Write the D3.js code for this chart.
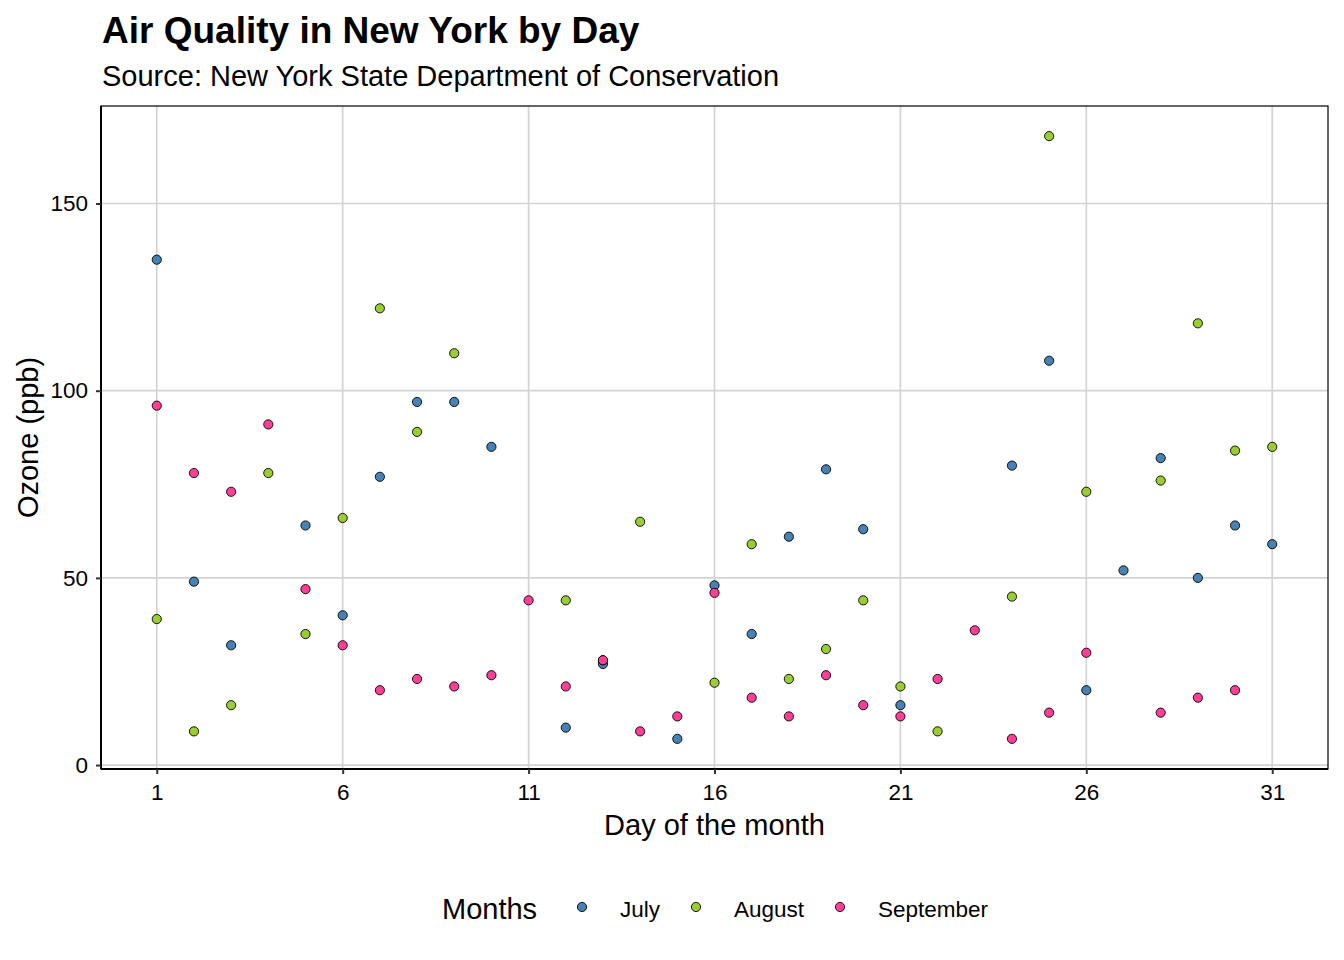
<!DOCTYPE html>
<html>
<head>
<meta charset="utf-8">
<script src="https://cdn.jsdelivr.net/npm/d3@7"></script>
<style>
html,body{margin:0;padding:0;background:#fff;}
svg text{font-family:"Liberation Sans",Arial,sans-serif;}
</style>
</head>
<body>
<svg id="chart" width="1344" height="960"></svg>
<script>
const days = d3.range(1, 32);
const months = ["July", "August", "September"];
const colors = ["#4682B4", "#9ACD32", "#FF3E96"];
const julyOzone = [135,49,32,null,64,40,77,97,97,85,null,10,27,null,7,48,35,61,79,63,16,null,null,80,108,20,52,82,50,64,59];
const augustOzone = [39,9,16,78,35,66,122,89,110,null,null,44,28,65,null,22,59,23,31,44,21,9,null,45,168,73,null,76,118,84,85];
const septemberOzone = [96,78,73,91,47,32,20,23,21,24,44,21,28,9,13,46,18,13,24,16,13,23,36,7,14,30,null,14,18,20];
const xTicks = [1,6,11,16,21,26,31];
const yTicks = [0,50,100,150];

const series = [julyOzone, augustOzone, septemberOzone];
const points = [];
series.forEach((vals, mi) => vals.forEach((v, i) => {
  if (v != null) points.push({day: days[i], ozone: v, month: months[mi]});
}));

const svg = d3.select("#chart");
const L = 101, R = 1328, T = 106, B = 769;
const allVals = points.map(p => p.ozone);
const ymin = d3.min(allVals), ymax = d3.max(allVals);
const yr = ymax - ymin;
const x = d3.scaleLinear().domain([1 - 1.5, 31 + 1.5]).range([L, R]);
const y = d3.scaleLinear().domain([ymin - 0.05*yr, ymax + 0.05*yr]).range([B, T]);
const color = d3.scaleOrdinal().domain(months).range(colors);

// grid
svg.append("g").selectAll("line").data(yTicks).join("line")
  .attr("x1", L).attr("x2", R).attr("y1", d => y(d)).attr("y2", d => y(d))
  .attr("stroke", "#D3D3D3").attr("stroke-width", 1.7);
svg.append("g").selectAll("line").data(xTicks).join("line")
  .attr("y1", T).attr("y2", B).attr("x1", d => x(d)).attr("x2", d => x(d))
  .attr("stroke", "#D3D3D3").attr("stroke-width", 1.7);

// panel border
svg.append("rect").attr("x", L).attr("y", T).attr("width", R - L).attr("height", B - T)
  .attr("fill", "none").attr("stroke", "#000").attr("stroke-width", 1.2);

// axes
const xAxis = svg.append("g").attr("transform", `translate(0,${B})`)
  .call(d3.axisBottom(x).tickValues(xTicks).tickSize(5).tickPadding(10));
const yAxis = svg.append("g").attr("transform", `translate(${L},0)`)
  .call(d3.axisLeft(y).tickValues(yTicks).tickSize(5).tickPadding(8));
[xAxis, yAxis].forEach(g => {
  g.select(".domain").attr("stroke", "#000").attr("stroke-width", 2);
  g.selectAll(".tick line").attr("stroke", "#333").attr("stroke-width", 2);
  g.selectAll(".tick text").attr("fill", "#000").style("font-size", "22.5px")
    .style("font-family", '"Liberation Sans",Arial,sans-serif');
});
xAxis.select(".domain").attr("d", `M${L},0H${R}`);
yAxis.select(".domain").attr("d", `M0,${T}V${B}`);

// points
svg.append("g").selectAll("circle").data(points).join("circle")
  .attr("cx", d => x(d.day)).attr("cy", d => y(d.ozone)).attr("r", 4.6)
  .attr("fill", d => color(d.month)).attr("stroke", "#000").attr("stroke-width", 0.9);

// titles
svg.append("text").attr("x", 102).attr("y", 43).text("Air Quality in New York by Day")
  .style("font-size", "37px").style("font-weight", "bold");
svg.append("text").attr("x", 102).attr("y", 86).text("Source: New York State Department of Conservation")
  .style("font-size", "29px");
svg.append("text").attr("x", (L + R) / 2).attr("y", 835).attr("text-anchor", "middle")
  .text("Day of the month").style("font-size", "29px");
svg.append("text").attr("transform", `translate(38,${(T + B) / 2}) rotate(-90)`)
  .attr("text-anchor", "middle").text("Ozone (ppb)").style("font-size", "29px");

// legend
const lg = svg.append("g");
lg.append("text").attr("x", 442).attr("y", 919).text("Months").style("font-size", "29px");
const keyX = [582, 696, 840];
months.forEach((m, i) => {
  lg.append("circle").attr("cx", keyX[i]).attr("cy", 907).attr("r", 4.6)
    .attr("fill", color(m)).attr("stroke", "#000").attr("stroke-width", 0.9);
  lg.append("text").attr("x", keyX[i] + 38).attr("y", 917).text(m).style("font-size", "22.5px");
});
</script>
</body>
</html>
